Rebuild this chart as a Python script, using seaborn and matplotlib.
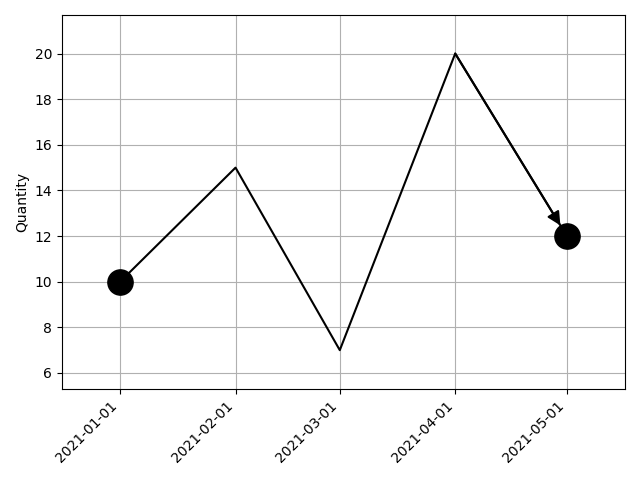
import pandas as pd
import matplotlib
matplotlib.use("Agg")
import matplotlib.pyplot as plt
import seaborn as sns

# ========= Data =========
dates = ["2021-01-01", "2021-02-01", "2021-03-01", "2021-04-01", "2021-05-01"]
quantity = [10, 15, 7, 20, 12]

df = pd.DataFrame({"Date": pd.to_datetime(dates), "Quantity": quantity})

# ========= Plot =========
fig, ax = plt.subplots(figsize=(6.4, 4.8), dpi=100)
sns.lineplot(data=df, x="Date", y="Quantity", color="black", linewidth=1.5, ax=ax)

# big dots on first and last points
ends = df.iloc[[0, -1]]
ax.scatter(ends["Date"], ends["Quantity"], s=330, color="black", zorder=3)

# arrow on the last segment
ax.annotate("", xy=(df["Date"].iloc[-1], df["Quantity"].iloc[-1]),
            xytext=(df["Date"].iloc[-2], df["Quantity"].iloc[-2]),
            arrowprops=dict(arrowstyle="-|>", color="black", lw=1.5,
                            mutation_scale=20, shrinkA=0, shrinkB=9))

ax.margins(0.13)
ax.set_xticks(df["Date"])
ax.set_xticklabels(dates, rotation=45, ha="right")
ax.set_xlabel("")
ax.set_ylabel("Quantity")
ax.grid(True)
ax.set_axisbelow(True)

plt.tight_layout()
plt.savefig("out.png")
